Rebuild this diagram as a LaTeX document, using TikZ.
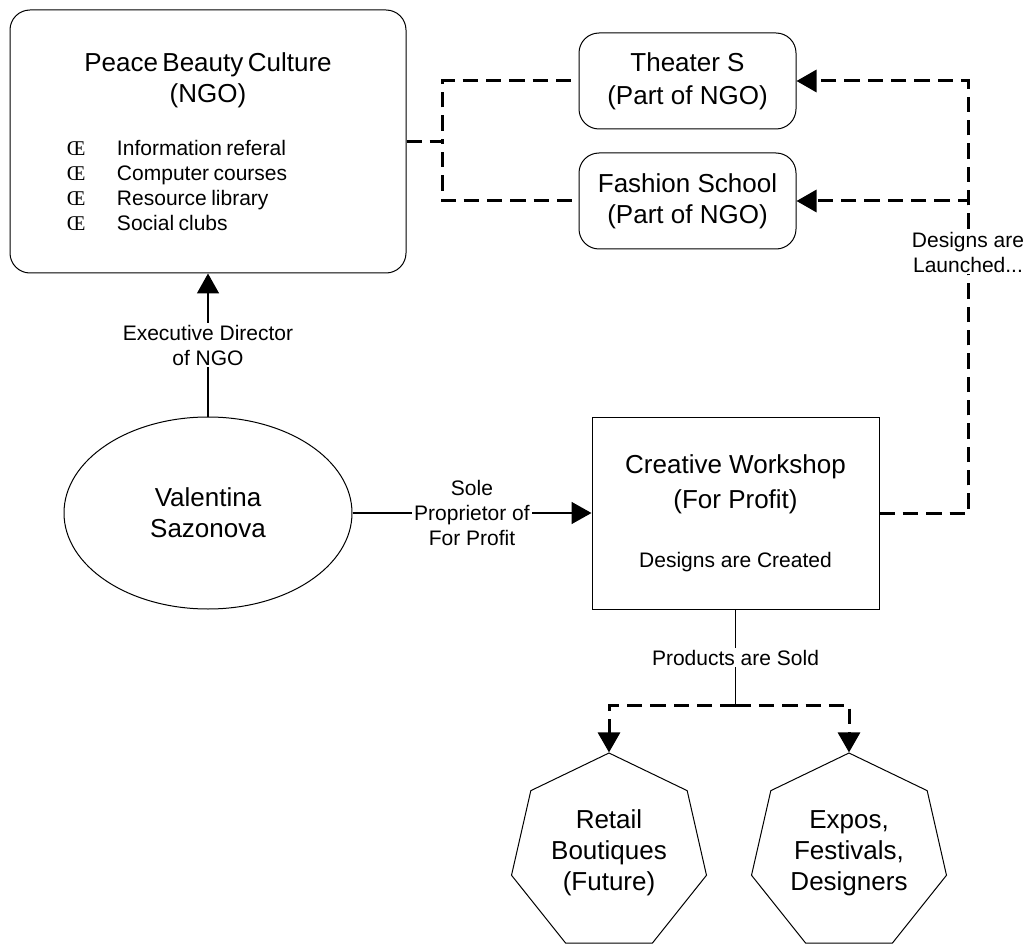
\documentclass[tikz,border=0pt]{standalone}
\usepackage{fontspec}
\setmainfont{Liberation Sans}
\newfontfamily\bulletfont{Liberation Serif}
\usetikzlibrary{arrows.meta,shapes.geometric}

\newcommand{\bigfnt}{\fontsize{19.5pt}{23.25pt}\selectfont}
\newcommand{\smallfnt}{\fontsize{15.75pt}{18.75pt}\selectfont}
\newcommand{\bitem}[1]{\hspace*{42.75pt}\makebox[37.5pt][l]{\bulletfont Œ}#1}

\begin{document}
\begin{tikzpicture}[
  x=0.75pt, y=-0.75pt,
  ngonode/.style={rectangle, rounded corners=15pt, draw=black, line width=0.75pt,
    text width=297pt, inner xsep=0pt, minimum height=197.25pt},
  partnode/.style={rectangle, rounded corners=15pt, draw=black, line width=0.75pt,
    align=center, font=\bigfnt, minimum width=162.75pt, minimum height=72pt},
  personnode/.style={ellipse, draw=black, line width=0.75pt, align=center,
    font=\bigfnt, minimum width=216pt, minimum height=144pt, inner sep=0pt},
  shopnode/.style={rectangle, draw=black, line width=0.75pt, align=center,
    font=\bigfnt, minimum width=215.25pt, minimum height=144pt},
  outletnode/.style={regular polygon, regular polygon sides=7, draw=black,
    line width=0.75pt, align=center, font=\bigfnt, minimum size=150pt, inner sep=0pt},
  lnode/.style={align=center, font=\smallfnt, fill=white, inner sep=1.5pt},
  arw/.style={-{Triangle[length=15pt, width=16.5pt]}, line width=1.2pt},
  symline/.style={-, line width=1.2pt},
  dshline/.style={-, line width=2.25pt, dash pattern=on 11.5pt off 6pt},
  dsharw/.style={dshline, -{Triangle[length=15pt, width=16.5pt]}}
  ]

\useasboundingbox (0,0) rectangle (1029,945);

\node [ngonode] (ngo) at (208,141.5) {\parindent=0pt
  {\bigfnt\centering Peace Beauty Culture\\(NGO)\par}
  \vspace{21pt}
  {\smallfnt\raggedright
  \bitem{Information referal}\\
  \bitem{Computer courses}\\
  \bitem{Resource library}\\
  \bitem{Social clubs}\par}};

\node [partnode] (theater) at (687.5,81) {Theater S\\[1.5pt](Part of NGO)};
\node [partnode, below of=theater, node distance=90pt] (fashion) {Fashion School\\(Part of NGO)};

\node [personnode] (valentina) at (208,513) {Valentina\\Sazonova};
\node [shopnode] (workshop) at (735.5,513) {Creative Workshop\\[3pt](For Profit)\\[21pt]\smallfnt Designs are Created};

\node [outletnode] (retail) at (609,853) {Retail\\Boutiques\\(Future)};
\node [outletnode, right of=retail, node distance=180pt] (expos) {Expos,\\Festivals,\\Designers};

\draw [arw] (valentina.north) -- node [lnode, midway] (execlbl) {Executive Director\\of NGO} (ngo.south);
\draw [arw] (valentina.east) -- node [lnode, midway] (solelbl) {Sole\\Proprietor of\\For Profit} (workshop.west);

\draw [dshline] (ngo.east) -- ++(36,0) |- (theater.west);
\draw [dshline] (ngo.east) -- ++(36,0) |- (fashion.west);

\draw [dsharw] (workshop.east) -- ++(89,0) |- (theater.east);
\draw [dsharw] (workshop.east) -- ++(89,0) |- (fashion.east);
\node [lnode] (launchlbl) at (968,252) {Designs are\\Launched...};

\draw [symline] (workshop.south) -- node [lnode, midway] (soldlbl) {Products are Sold} ++(0,96) coordinate (sold);
\draw [dsharw] (sold) -| (retail.north);
\draw [dsharw] (sold) -| (expos.north);

\end{tikzpicture}
\end{document}
